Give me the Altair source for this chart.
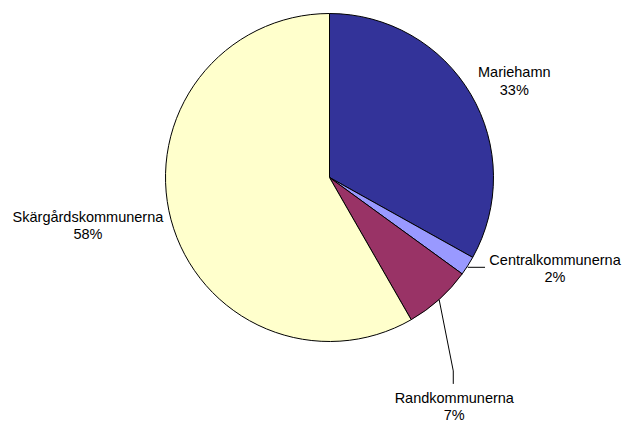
import math
import altair as alt
import pandas as pd

# ---- data ----
categories = ["Mariehamn", "Centralkommunerna", "Randkommunerna", "Skärgårdskommunerna"]
values = [33.1, 1.9, 6.7, 58.3]
colors = ["#333399", "#9999FF", "#993366", "#FFFFCC"]

# ---- layout ----
W, H = 614, 417
CX, CY, R = 321.5, 169.5, 164
FONT = "Liberation Sans"
FS = 14.5
LH = 17.5
FIRST_LINE_SHIFT = -8.25

label_style = {
    "Mariehamn": dict(radius=205, dx=8, dy=8),
    "Centralkommunerna": dict(radius=200, dx=57, dy=-16),
    "Randkommunerna": dict(radius=260, dx=-49, dy=36),
    "Skärgårdskommunerna": dict(radius=250, dx=0, dy=-16),
}

df = pd.DataFrame({"category": categories, "value": values, "order": list(range(len(categories)))})

pie = alt.Chart(df).mark_arc(radius=R, stroke="black", strokeWidth=1).encode(
    theta=alt.Theta("value:Q", stack=True),
    order=alt.Order("order:Q"),
    color=alt.Color("category:N", scale=alt.Scale(domain=categories, range=colors), legend=None),
    x=alt.value(CX),
    y=alt.value(CY),
)

base = (
    alt.Chart(df)
    .transform_joinaggregate(total="sum(value)")
    .transform_window(cum="sum(value)", sort=[alt.SortField("order")], frame=[None, 0])
    .transform_calculate(
        mid="(datum.cum - datum.value/2)/datum.total",
        label="[datum.category, round(100*datum.value/datum.total) + '%']",
    )
)

texts = []
for c in categories:
    st = label_style[c]
    texts.append(
        base.transform_filter(alt.datum.category == c)
        .mark_text(
            radius=st["radius"], dx=st["dx"], dy=st["dy"] + FIRST_LINE_SHIFT,
            font=FONT, fontSize=FS, lineHeight=LH,
            align="center", baseline="middle", color="black",
        )
        .encode(
            theta=alt.Theta("mid:Q", scale=alt.Scale(domain=[0, 1], range=[0, 2 * math.pi])),
            text=alt.Text("label:N"),
            x=alt.value(CX),
            y=alt.value(CY),
        )
    )

# leader lines derived from slice angles
total = sum(values)
mids = {}
cum = 0.0
for c, v in zip(categories, values):
    mids[c] = (cum + v / 2) / total * 2 * math.pi
    cum += v


def edge(c):
    a = mids[c]
    return CX + R * math.sin(a), CY - R * math.cos(a)


def anchor(c):
    a = mids[c]
    st = label_style[c]
    return CX + st["radius"] * math.sin(a) + st["dx"], CY - st["radius"] * math.cos(a) + st["dy"]


rows = []
x0, y0 = edge("Centralkommunerna")
ax, ay = anchor("Centralkommunerna")
rows += [dict(seg="c", idx=0, x=x0, y=y0 + 1.5), dict(seg="c", idx=1, x=ax - 70, y=y0 + 1.5)]
x0, y0 = edge("Randkommunerna")
ax, ay = anchor("Randkommunerna")
rows += [
    dict(seg="r", idx=0, x=x0, y=y0),
    dict(seg="r", idx=1, x=ax - 1, y=ay - 36),
    dict(seg="r", idx=2, x=ax - 1, y=ay - 23),
]
leaders = pd.DataFrame(rows)

lines = alt.Chart(leaders).mark_line(color="black", strokeWidth=1).encode(
    x=alt.X("x:Q", scale=None, axis=None),
    y=alt.Y("y:Q", scale=None, axis=None),
    detail="seg:N",
    order="idx:Q",
)

chart = (
    alt.layer(pie, lines, *texts)
    .resolve_scale(theta="independent")
    .properties(width=W, height=H, autosize=alt.AutoSizeParams(type="none"), padding=0, background="white")
    .configure_view(stroke=None)
)

chart.save("out.html", embed_options={"renderer": "svg", "actions": False})
